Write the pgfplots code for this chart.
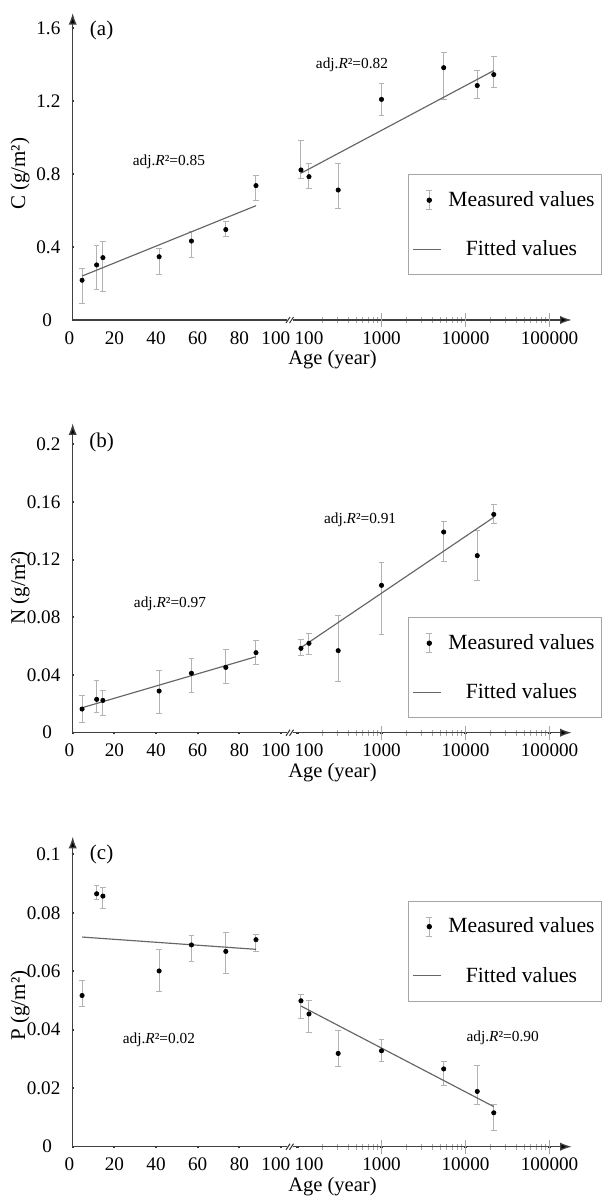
\documentclass[border=0pt]{standalone}
\usepackage{fontspec}
\setmainfont{Liberation Serif}
\usepackage{pgfplots}
\usepackage{pgfplotstable}
\pgfplotsset{compat=1.18}
\usetikzlibrary{arrows.meta}

% x = age (year), y = mean, ep/em = upper/lower error
\pgfplotstableread{
x y ep em
4.5 0.218 0.064 0.125
11.5 0.302 0.109 0.137
14.5 0.342 0.091 0.183
41.5 0.347 0.046 0.097
57 0.433 0.052 0.091
73.5 0.496 0.045 0.039
88 0.737 0.058 0.082
}\aL
\pgfplotstableread{
x y ep em
110 0.823 0.161 0.046
137 0.786 0.070 0.067
305 0.713 0.146 0.100
1000 1.210 0.088 0.091
5500 1.384 0.084 0.177
13800 1.286 0.082 0.072
21700 1.346 0.097 0.071
}\aR
\pgfplotstableread{
x y ep em
4.5 0.0164 0.0093 0.0095
11.5 0.0231 0.0130 0.0090
14.5 0.0224 0.0072 0.0108
41.5 0.0289 0.0141 0.0155
57 0.0412 0.0106 0.0135
73.5 0.0453 0.0125 0.0115
88 0.0555 0.0081 0.0081
}\bL
\pgfplotstableread{
x y ep em
110 0.0585 0.0062 0.0049
137 0.0620 0.0069 0.0077
305 0.0569 0.0243 0.0215
1000 0.1022 0.0155 0.0342
5500 0.1392 0.0074 0.0206
13800 0.1228 0.0173 0.0169
21700 0.1514 0.0070 0.0064
}\bR
\pgfplotstableread{
x y ep em
4.5 0.0517 0.0051 0.0038
11.5 0.0865 0.0029 0.0021
14.5 0.0857 0.0029 0.0042
41.5 0.0601 0.0072 0.0071
57 0.0690 0.0033 0.0055
73.5 0.0668 0.0066 0.0075
88 0.0708 0.0018 0.0039
}\cL
\pgfplotstableread{
x y ep em
110 0.0499 0.0023 0.0061
137 0.0454 0.0045 0.0063
305 0.0319 0.0080 0.0045
1000 0.0328 0.0037 0.0037
5500 0.0266 0.0025 0.0057
13800 0.0189 0.0089 0.0043
21700 0.0116 0.0029 0.0059
}\cR

\pgfplotsset{
  brk/.style={scale only axis, ymin=0, clip=false,
    axis line style={black!75, line width=0.8pt},
    /pgf/number format/assume math mode=true,
    tick label style={font=\fontsize{11.5}{13}\selectfont, black},
    major tick length=1.2pt,
    major tick style={black!80, line width=1.3pt},
    minor tick length=3.6pt,
    minor tick style={black!35, line width=0.5pt},
    xticklabel style={anchor=north, inner sep=0pt, yshift=-6pt},
    yticklabel style={anchor=east, inner sep=0pt, xshift=-6.6pt},
  },
  lft/.style={brk, width=128.6pt, xmin=0, xmax=102.9, tick align=center,
    axis x line=bottom, axis y line=left,
    x axis line style={-}, y axis line style={-{Latex[length=7pt,width=5pt,fill=black]}},
    xtick={0,20,40,60,80,100},
    xticklabels={0\hspace*{4pt},20,40,60,80,100\hspace*{6.2pt}},
    every axis y label/.style={rotate=90, anchor=center,
      font=\fontsize{12.6}{14}\selectfont},
  },
  rgt/.style={brk, width=167.2pt, xmin=88.4, xmax=183600,
    tick align=inside,
    axis x line=bottom, axis y line=none, ytick=\empty,
    x axis line style={-{Latex[length=7pt,width=5pt,fill=black]}},
    xtick={100,1000,10000,100000},
    xticklabels={\hspace*{13.8pt}100,1000,10000,100000},
    minor xtick={200,300,400,500,600,700,800,900,2000,3000,4000,5000,6000,7000,8000,9000,20000,30000,40000,50000,60000,70000,80000,90000},
    extra x ticks={1000,10000,100000},
    extra x tick labels={},
    extra x tick style={major tick length=8.4pt, major tick style={black!35, line width=0.5pt}},
    every axis x label/.style={at={(rel axis cs:0.1417,0)}, yshift=-23.7pt, anchor=center,
      font=\fontsize{12.3}{14}\selectfont},
    xlabel={Age (year)},
    legend cell align=center,
    legend style={anchor=north west, draw=black!35, line width=0.6pt, fill=white,
      font=\fontsize{13}{15}\selectfont, inner xsep=2pt, inner ysep=8pt,
      row sep=15pt, column sep=2pt},
  },
  meas/.style={only marks, mark=*, mark size=1.3pt, black,
    error bars/y dir=both, error bars/y explicit,
    error bars/error bar style={black!30, line width=0.6pt},
    error bars/error mark options={rotate=90, mark size=1.7pt, black!30, line width=0.6pt}},
  fit/.style={black!60, line width=0.7pt, no marks},
  measleg/.style={legend image code/.code={
    \draw[black!30, line width=0.6pt] (0.35cm,-5.7pt) -- (0.35cm,5.7pt)
      (0.35cm-1.7pt,-5.7pt) -- (0.35cm+1.7pt,-5.7pt)
      (0.35cm-1.7pt,5.7pt) -- (0.35cm+1.7pt,5.7pt);
    \fill[black] (0.35cm,0pt) circle[radius=1.3pt];}},
}
\newcommand{\brkmark}{%
  \draw[black!80, line width=0.6pt]
    ([xshift=-0.6pt,yshift=-1.8pt]rel axis cs:1,0) -- ++(2.4pt,3.6pt)
    ([xshift=1.5pt,yshift=-1.8pt]rel axis cs:1,0) -- ++(2.4pt,3.6pt);}
\newcommand{\annfont}{\fontsize{9.2}{10}\selectfont}
\newcommand{\tagfont}{\fontsize{12.6}{14}\selectfont}

\begin{document}
\begin{tikzpicture}
\path[use as bounding box] (0,0) rectangle (363pt,717.6pt);

% ---------- (a) C ----------
\begin{axis}[lft, at={(43.62pt,525.6pt)}, anchor=south west, height=184.2pt,
  ymax=1.684, ytick={0,0.4,0.8,1.2,1.6},
  yticklabels={0\hspace*{5pt},0.4,0.8,1.2,1.6},
  ylabel={C (g/m²)}, every axis y label/.append style={at={([xshift=-31.5pt]rel axis cs:0,0.476)}}]
\addplot[meas] table[x=x, y=y, y error plus=ep, y error minus=em] {\aL};
\addplot[fit] coordinates {(4.5,0.241) (88,0.627)};
\node[font=\annfont] at (axis cs:46.2,0.868) {adj.\textit{R}²=0.85};
\node[font=\tagfont] at (axis cs:13.9,1.59) {(a)};
\brkmark
\end{axis}
\begin{axis}[xmode=log, rgt, at={(175.8pt,525.6pt)}, anchor=south west, height=184.2pt,
  ymax=1.684, legend style={at={(rel axis cs:0.4137,0.4746)}}]
\addplot[meas, measleg] table[x=x, y=y, y error plus=ep, y error minus=em] {\aR};
\addlegendentry{Measured values}
\addplot[fit] coordinates {(110,0.805) (21700,1.368)};
\addlegendentry{Fitted values}
\node[font=\annfont] at (axis cs:445,1.399) {adj.\textit{R}²=0.82};
\end{axis}

% ---------- (b) N ----------
\begin{axis}[lft, at={(43.62pt,277.98pt)}, anchor=south west, height=185.64pt,
  ymax=0.2146, ytick={0,0.04,0.08,0.12,0.16,0.2},
  yticklabels={0\hspace*{5pt},0.04,0.08,0.12,0.16,0.2},
  ylabel={N (g/m²)}, every axis y label/.append style={at={([xshift=-31.5pt]rel axis cs:0,0.468)}}]
\addplot[meas] table[x=x, y=y, y error plus=ep, y error minus=em] {\bL};
\addplot[fit] coordinates {(4.5,0.0173) (88,0.0527)};
\node[font=\annfont] at (axis cs:46.7,0.0897) {adj.\textit{R}²=0.97};
\node[font=\tagfont] at (axis cs:13.9,0.2016) {(b)};
\brkmark
\end{axis}
\begin{axis}[xmode=log, rgt, at={(175.8pt,277.98pt)}, anchor=south west, height=185.64pt,
  ymax=0.2146, legend style={at={(rel axis cs:0.4137,0.373)}}]
\addplot[meas, measleg] table[x=x, y=y, y error plus=ep, y error minus=em] {\bR};
\addlegendentry{Measured values}
\addplot[fit] coordinates {(110,0.0590) (21700,0.1494)};
\addlegendentry{Fitted values}
\node[font=\annfont] at (axis cs:557,0.148) {adj.\textit{R}²=0.91};
\end{axis}

% ---------- (c) P ----------
\begin{axis}[lft, at={(43.62pt,29.58pt)}, anchor=south west, height=186pt,
  ymax=0.10602, ytick={0,0.02,0.04,0.06,0.08,0.1},
  yticklabels={0\hspace*{5pt},0.02,0.04,0.06,0.08,0.1},
  ylabel={P (g/m²)}, every axis y label/.append style={at={([xshift=-31.5pt]rel axis cs:0,0.455)}}]
\addplot[meas] table[x=x, y=y, y error plus=ep, y error minus=em] {\cL};
\addplot[fit] coordinates {(4.5,0.0717) (88,0.0675)};
\node[font=\annfont] at (axis cs:41.4,0.0367) {adj.\textit{R}²=0.02};
\node[font=\tagfont] at (axis cs:13.9,0.0998) {(c)};
\brkmark
\end{axis}
\begin{axis}[xmode=log, rgt, at={(175.8pt,29.58pt)}, anchor=south west, height=186pt,
  ymax=0.10602, legend style={at={(rel axis cs:0.4137,0.7935)}}]
\addplot[meas, measleg] table[x=x, y=y, y error plus=ep, y error minus=em] {\cR};
\addlegendentry{Measured values}
\addplot[fit] coordinates {(110,0.0481) (21700,0.0137)};
\addlegendentry{Fitted values}
\node[font=\annfont] at (axis cs:27700,0.0373) {adj.\textit{R}²=0.90};
\end{axis}
\end{tikzpicture}
\end{document}
